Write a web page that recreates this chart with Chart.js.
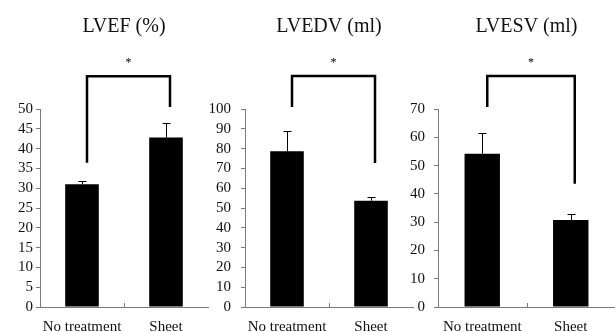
<!DOCTYPE html>
<html>
<head>
<meta charset="utf-8">
<script src="https://cdn.jsdelivr.net/npm/chart.js@4/dist/chart.umd.min.js"></script>
<style>
html,body{margin:0;padding:0;background:#fff;}
#wrap{position:relative;width:615px;height:332px;overflow:hidden;background:#fff;}
.pn{position:absolute;top:0;height:332px;}
</style>
</head>
<body>
<div id="wrap">
  <div class="pn" style="left:0;width:210px"><canvas id="c1"></canvas></div>
  <div class="pn" style="left:205px;width:210px"><canvas id="c2"></canvas></div>
  <div class="pn" style="left:405px;width:210px"><canvas id="c3"></canvas></div>
</div>
<script>
// ---- data ----
const categories = ["No treatment", "Sheet"];
const titles = ["LVEF (%)", "LVEDV (ml)", "LVESV (ml)"];

const lvefValues = [31.0, 42.8];
const lvefErrors = [0.7, 3.6];
const lvefAxis = [0, 50, 5];        // min, max, step
const lvefBracket = [58.3, 36.4, 50.5]; // top, left leg end, right leg end

const lvedvValues = [78.6, 53.7];
const lvedvErrors = [10.1, 2.0];
const lvedvAxis = [0, 100, 10];
const lvedvBracket = [116.7, 101, 72.7];

const lvesvValues = [54.2, 30.8];
const lvesvErrors = [7.2, 2.0];
const lvesvAxis = [0, 70, 10];
const lvesvBracket = [81.7, 70.7, 43.6];

const significance = ["*", "*", "*"];

// ---- style ----
const SERIF = "'Liberation Serif', 'Times New Roman', serif";
const AXIS_COLOR = '#7a7a7a';

const errorBracketPlugin = {
  id: 'errBracket',
  afterDatasetsDraw(chart, args, opts) {
    const ctx = chart.ctx;
    const y = chart.scales.y;
    const meta = chart.getDatasetMeta(0);
    const vals = chart.data.datasets[0].data;
    ctx.save();
    // x axis middle tick
    const ca = chart.chartArea;
    const midX = (meta.data[0].x + meta.data[1].x) / 2;
    ctx.strokeStyle = AXIS_COLOR; ctx.lineWidth = 1;
    ctx.beginPath(); ctx.moveTo(Math.round(midX)+0.5, ca.bottom); ctx.lineTo(Math.round(midX)+0.5, ca.bottom - 4); ctx.stroke();
    // error bars
    ctx.strokeStyle = '#000'; ctx.lineWidth = 1;
    meta.data.forEach((bar, i) => {
      const bx = Math.round(bar.x) + 0.5;
      const y0 = y.getPixelForValue(vals[i]);
      const y1 = Math.round(y.getPixelForValue(vals[i] + opts.errors[i])) + 0.5;
      ctx.beginPath();
      ctx.moveTo(bx, y0); ctx.lineTo(bx, y1);
      ctx.moveTo(bx - 4, y1); ctx.lineTo(bx + 4, y1);
      ctx.stroke();
    });
    // bracket
    const b = opts.bracket;
    const lx = meta.data[0].x + 5, rx = meta.data[1].x + 4;
    const top = y.getPixelForValue(b[0]);
    ctx.lineWidth = 2.5; ctx.strokeStyle = '#000'; ctx.lineJoin = 'miter';
    ctx.beginPath();
    ctx.moveTo(lx, y.getPixelForValue(b[1]));
    ctx.lineTo(lx, top);
    ctx.lineTo(rx, top);
    ctx.lineTo(rx, y.getPixelForValue(b[2]));
    ctx.stroke();
    // asterisk
    ctx.fillStyle = '#000';
    ctx.font = "12px " + SERIF;
    ctx.textAlign = 'center'; ctx.textBaseline = 'middle';
    ctx.fillText(opts.mark, (lx + rx) / 2, top - 13);
    ctx.restore();
  }
};

function makeChart(id, title, values, errors, axis, bracket, mark, yWidth, yPad, padRight) {
  return new Chart(document.getElementById(id), {
    type: 'bar',
    data: {
      labels: categories,
      datasets: [{
        data: values,
        backgroundColor: '#000',
        borderWidth: 0,
        barPercentage: 0.4,
        categoryPercentage: 1.0
      }]
    },
    options: {
      responsive: true,
      maintainAspectRatio: false,
      animation: false,
      layout: { padding: { left: 0, right: padRight, top: 0, bottom: 0 } },
      plugins: {
        legend: { display: false },
        tooltip: { enabled: false },
        title: {
          display: true,
          text: title,
          fullSize: false,
          color: '#111',
          font: { family: SERIF, size: 20, weight: 'normal', lineHeight: 1.2 },
          padding: { top: 15, bottom: 70 }
        },
        errBracket: { errors: errors, bracket: bracket, mark: mark }
      },
      scales: {
        x: {
          offset: true,
          grid: { display: false, drawTicks: false },
          border: { display: true, color: AXIS_COLOR, width: 1 },
          ticks: { color: '#111', padding: 13, font: { family: SERIF, size: 15, lineHeight: 1 }, maxRotation: 0, autoSkip: false },
          afterFit(scale) { scale.height = 25; }
        },
        y: {
          min: axis[0], max: axis[1],
          grid: { drawOnChartArea: false, drawTicks: true, tickLength: 4, color: AXIS_COLOR },
          border: { display: true, color: AXIS_COLOR, width: 1 },
          ticks: { stepSize: axis[2], autoSkip: false, color: '#111', padding: yPad, font: { family: SERIF, size: 15 } },
          afterFit(scale) { scale.width = yWidth; }
        }
      }
    },
    plugins: [errorBracketPlugin]
  });
}

makeChart('c1', titles[0], lvefValues, lvefErrors, lvefAxis, lvefBracket, significance[0], 40, 3, 2);
makeChart('c2', titles[1], lvedvValues, lvedvErrors, lvedvAxis, lvedvBracket, significance[1], 40, 10, 2);
makeChart('c3', titles[2], lvesvValues, lvesvErrors, lvesvAxis, lvesvBracket, significance[2], 33, 9, 0);
</script>
</body>
</html>
